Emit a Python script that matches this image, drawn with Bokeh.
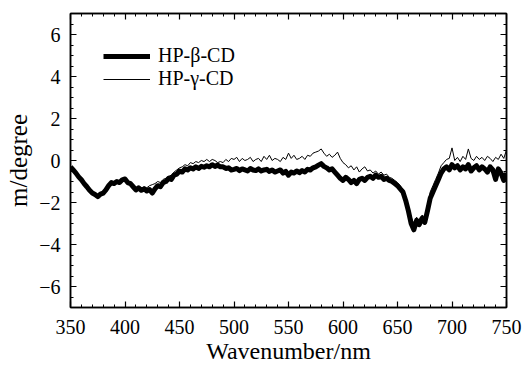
import numpy as np
from bokeh.plotting import figure
from bokeh.models import (LinearAxis, SingleIntervalTicker, Range1d, Legend, LegendItem,
                          CustomJSTickFormatter)
from bokeh.embed import file_html
from bokeh.resources import INLINE

# wavelength grid (nm), 2.5 nm step
wavelength = np.arange(350.0, 750.0 + 1e-9, 2.5)

hp_beta_cd = [
    -0.30, -0.45, -0.60, -0.78, -0.92, -1.10, -1.25, -1.42, -1.55, -1.62,
    -1.72, -1.60, -1.55, -1.40, -1.20, -1.05, -1.10, -1.00, -1.05, -0.92,
    -0.88, -1.05, -1.10, -1.25, -1.40, -1.30, -1.42, -1.35, -1.45, -1.38,
    -1.55, -1.35, -1.20, -1.25, -1.05, -1.00, -0.85, -0.90, -0.70, -0.65,
    -0.50, -0.55, -0.40, -0.45, -0.35, -0.40, -0.30, -0.38, -0.28, -0.32,
    -0.25, -0.30, -0.20, -0.28, -0.22, -0.30, -0.30, -0.38, -0.35, -0.45,
    -0.42, -0.38, -0.48, -0.40, -0.45, -0.50, -0.38, -0.45, -0.48, -0.40,
    -0.50, -0.45, -0.42, -0.52, -0.45, -0.55, -0.50, -0.45, -0.60, -0.52,
    -0.70, -0.55, -0.60, -0.50, -0.58, -0.48, -0.55, -0.42, -0.45, -0.35,
    -0.30, -0.22, -0.15, -0.28, -0.35, -0.45, -0.40, -0.55, -0.70, -0.85,
    -0.95, -0.80, -0.90, -1.05, -0.95, -1.10, -0.90, -0.85, -0.95, -0.80,
    -0.75, -0.85, -0.70, -0.80, -0.75, -0.90, -0.85, -0.95, -1.00, -1.10,
    -1.20, -1.35, -1.50, -1.90, -2.40, -3.00, -3.30, -2.85, -3.05, -2.75,
    -2.95, -2.40, -1.80, -1.50, -1.20, -0.90, -0.60, -0.40, -0.30, -0.45,
    -0.20, -0.35, -0.25, -0.45, -0.30, -0.40, -0.20, -0.50, -0.35, -0.25,
    -0.45, -0.30, -0.40, -0.55, -0.30, -0.45, -0.90, -0.40, -0.60, -0.95,
    -0.60,
]

hp_gamma_cd = [
    -0.30, -0.42, -0.58, -0.75, -0.90, -1.05, -1.22, -1.38, -1.50, -1.58,
    -1.65, -1.62, -1.58, -1.45, -1.30, -1.15, -1.08, -1.05, -1.00, -0.98,
    -0.95, -1.05, -1.15, -1.20, -1.30, -1.25, -1.32, -1.25, -1.30, -1.20,
    -1.15, -1.10, -1.00, -1.05, -0.90, -0.85, -0.75, -0.70, -0.55, -0.45,
    -0.35, -0.30, -0.20, -0.25, -0.10, -0.15, -0.05, -0.10, 0.00, -0.05,
    0.05, -0.05, 0.05, 0.00, -0.10, -0.05, -0.10, 0.05, -0.05, 0.10,
    0.05, 0.15, -0.05, 0.10, 0.00, 0.05, 0.15, -0.05, 0.05, 0.10,
    -0.05, 0.20, 0.05, 0.25, 0.00, 0.10, 0.05, -0.05, 0.15, 0.05,
    0.35, 0.10, 0.25, 0.05, 0.10, 0.20, 0.05, 0.25, 0.20, 0.35,
    0.40, 0.45, 0.55, 0.35, 0.20, 0.30, 0.15, 0.25, 0.40, 0.10,
    -0.10, -0.20, -0.35, -0.25, -0.45, -0.30, -0.55, -0.40, -0.30, -0.50,
    -0.45, -0.60, -0.50, -0.65, -0.55, -0.70, -0.65, -0.80, -0.85, -0.95,
    -1.05, -1.20, -1.40, -1.75, -2.20, -2.70, -3.00, -2.70, -2.85, -2.60,
    -2.70, -2.20, -1.50, -1.20, -0.90, -0.60, -0.25, -0.10, 0.05, 0.10,
    0.60, 0.00, 0.15, -0.05, 0.20, 0.05, 0.55, 0.10, 0.00, 0.20,
    0.05, 0.15, 0.00, 0.20, 0.10, -0.05, 0.15, 0.05, 0.30, 0.10,
    0.50,
]

series_labels = ["HP-\u03b2-CD", "HP-\u03b3-CD"]
x_label = "Wavenumber/nm"
y_label = "m/degree"

FONT = "Liberation Serif"

p = figure(width=526, height=366, output_backend="svg", toolbar_location=None,
           x_range=Range1d(350, 750), y_range=Range1d(-7, 7),
           min_border_left=70, min_border_right=20, min_border_top=13,
           min_border_bottom=58, x_axis_label=x_label, y_axis_label=y_label)
p.grid.visible = False
p.outline_line_color = "black"
p.outline_line_width = 1.5

r_beta = p.line(wavelength, hp_beta_cd, line_color="black", line_width=5,
                line_join="round")
r_gamma = p.line(wavelength, hp_gamma_cd, line_color="black", line_width=1)

fmt = CustomJSTickFormatter(code="return tick < 0 ? '\\u2212' + Math.abs(tick) : String(tick);")

p.xaxis.ticker = SingleIntervalTicker(interval=50, num_minor_ticks=5)
p.yaxis.ticker = SingleIntervalTicker(interval=2, num_minor_ticks=4)
p.yaxis.formatter = fmt

top = LinearAxis(ticker=SingleIntervalTicker(interval=50, num_minor_ticks=5),
                 major_label_text_alpha=0, major_label_text_font_size="1px")
right = LinearAxis(ticker=SingleIntervalTicker(interval=2, num_minor_ticks=4),
                   major_label_text_alpha=0, major_label_text_font_size="1px")
p.add_layout(top, "above")
p.add_layout(right, "right")

p.axis.axis_line_color = "black"
p.axis.axis_line_width = 1.5
p.axis.major_tick_in = 6
p.axis.major_tick_out = 0
p.axis.minor_tick_in = 3
p.axis.minor_tick_out = 0
p.axis.major_tick_line_color = "black"
p.axis.minor_tick_line_color = "black"
p.axis.major_tick_line_width = 1.2
p.axis.minor_tick_line_width = 1

for ax in [p.below[0], p.left[0]]:
    ax.major_label_text_font = FONT
    ax.major_label_text_font_size = "20px"
    ax.major_label_text_color = "black"
    ax.major_label_standoff = 10
    ax.axis_label_text_font = FONT
    ax.axis_label_text_font_size = "24px"
    ax.axis_label_text_font_style = "normal"
    ax.axis_label_text_color = "black"
p.below[0].major_label_standoff = 12
p.below[0].axis_label_standoff = 1
p.left[0].axis_label_standoff = 4
p.left[0].axis_label_text_font_size = "25px"

legend = Legend(items=[LegendItem(label=series_labels[0], renderers=[r_beta]),
                       LegendItem(label=series_labels[1], renderers=[r_gamma])],
                location=(33, 217), padding=0, spacing=0, glyph_width=47, glyph_height=20,
                label_height=20, label_standoff=8, border_line_color=None,
                background_fill_alpha=0, label_text_font=FONT,
                label_text_font_size="20px", label_text_color="black")
p.add_layout(legend, "center")

open("out.html", "w").write(file_html(p, INLINE))
